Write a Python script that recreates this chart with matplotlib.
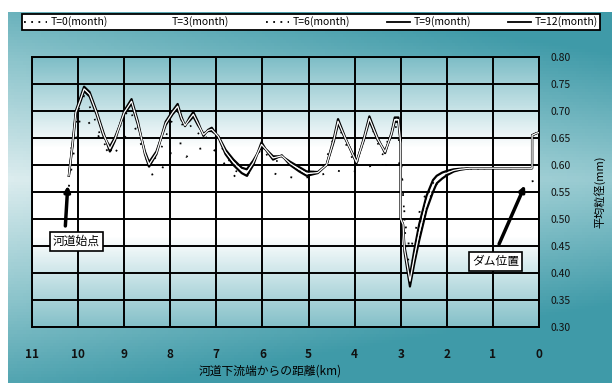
import numpy as np
import matplotlib
matplotlib.use("Agg")
import matplotlib.pyplot as plt
from matplotlib.colors import LinearSegmentedColormap
from matplotlib.lines import Line2D

plt.rcParams['font.family'] = ['Noto Sans CJK JP', 'DejaVu Sans']

# distance from downstream end (km) and mean grain size (mm)
km_main = [10.2, 10.12, 10.05, 9.95, 9.87, 9.75, 9.6, 9.45, 9.31, 9.2, 9.0, 8.84, 8.7, 8.55,
           8.46, 8.3, 8.1, 7.95, 7.84, 7.76, 7.68, 7.58, 7.5, 7.4, 7.28, 7.18, 7.1, 6.96, 6.8,
           6.63, 6.45, 6.34, 6.2, 6.02, 5.9, 5.77, 5.58, 5.4, 5.2, 5.04, 4.8, 4.61, 4.45, 4.36,
           4.2, 3.96, 3.8, 3.68, 3.5, 3.34, 3.2, 3.13, 3.05, 3.0, 3.0, 2.95, 2.92, 2.8, 2.7,
           2.6, 2.44, 2.3, 2.22, 2.1, 2.0, 1.85, 1.72, 1.5, 1.28, 1.0, 0.5, 0.15, 0.15, 0.05, 0.0]
t9 = [0.58, 0.64, 0.70, 0.725, 0.745, 0.735, 0.70, 0.66, 0.625, 0.645, 0.70, 0.722, 0.68, 0.62,
      0.597, 0.62, 0.68, 0.70, 0.713, 0.69, 0.672, 0.688, 0.698, 0.68, 0.654, 0.665, 0.669, 0.652, 0.62,
      0.600, 0.585, 0.580, 0.60, 0.642, 0.625, 0.610, 0.618, 0.60, 0.588, 0.580, 0.585, 0.600, 0.65, 0.685,
      0.65, 0.603, 0.65, 0.690, 0.65, 0.622, 0.66, 0.688, 0.688, 0.64, 0.50, 0.49, 0.44, 0.375, 0.42,
      0.46, 0.517, 0.55, 0.566, 0.575, 0.581, 0.588, 0.591, 0.594, 0.594, 0.594, 0.594, 0.594, 0.655, 0.659, 0.66]
t3 = [0.58, 0.638, 0.697, 0.721, 0.741, 0.731, 0.697, 0.657, 0.630, 0.648, 0.697, 0.718, 0.677, 0.622,
      0.601, 0.622, 0.677, 0.697, 0.709, 0.687, 0.673, 0.685, 0.694, 0.677, 0.656, 0.664, 0.666, 0.653, 0.624,
      0.605, 0.590, 0.586, 0.604, 0.638, 0.626, 0.613, 0.617, 0.603, 0.592, 0.584, 0.586, 0.600, 0.647, 0.681,
      0.649, 0.605, 0.648, 0.686, 0.648, 0.624, 0.658, 0.684, 0.684, 0.64, 0.50, 0.49, 0.445, 0.385, 0.432,
      0.475, 0.530, 0.561, 0.573, 0.581, 0.585, 0.590, 0.592, 0.594, 0.594, 0.594, 0.594, 0.594, 0.655, 0.659, 0.66]
t12 = [0.58, 0.636, 0.694, 0.717, 0.737, 0.727, 0.694, 0.654, 0.634, 0.651, 0.694, 0.714, 0.674, 0.625,
       0.605, 0.625, 0.674, 0.694, 0.705, 0.684, 0.674, 0.682, 0.690, 0.674, 0.658, 0.663, 0.663, 0.654, 0.628,
       0.610, 0.595, 0.592, 0.608, 0.634, 0.627, 0.616, 0.616, 0.606, 0.596, 0.588, 0.587, 0.600, 0.644, 0.677,
       0.648, 0.607, 0.646, 0.682, 0.646, 0.626, 0.656, 0.680, 0.680, 0.64, 0.50, 0.49, 0.45, 0.395, 0.445,
       0.490, 0.543, 0.572, 0.580, 0.586, 0.589, 0.592, 0.593, 0.594, 0.594, 0.594, 0.594, 0.594, 0.655, 0.659, 0.66]

km_t0 = [10.2, 10.1, 9.95, 9.78, 9.6, 9.4, 9.25, 9.0, 8.77, 8.6, 8.37, 8.2, 8.0, 7.9, 7.75, 7.65,
         7.5, 7.3, 7.1, 6.9, 6.56, 6.3, 6.0, 5.87, 5.6, 5.2, 4.8, 4.4, 4.14, 3.9, 3.6, 3.3,
         3.1, 3.0, 2.9, 2.8, 2.7, 2.55, 2.4, 2.2, 2.0, 1.7, 1.0, 0.2, 0.1, 0.0]
t0 = [0.56, 0.62, 0.69, 0.68, 0.66, 0.63, 0.615, 0.65, 0.671, 0.63, 0.578, 0.59, 0.62, 0.64, 0.64, 0.615,
      0.628, 0.631, 0.634, 0.61, 0.575, 0.585, 0.60, 0.588, 0.58, 0.575, 0.58, 0.59, 0.585, 0.59, 0.60, 0.60,
      0.61, 0.60, 0.49, 0.44, 0.47, 0.53, 0.555, 0.575, 0.585, 0.593, 0.594, 0.594, 0.555, 0.555]

km_t6 = [10.15, 10.0, 9.87, 9.7, 9.5, 9.31, 9.1, 8.9, 8.7, 8.46, 8.2, 7.95, 7.84, 7.7, 7.5, 7.3,
         7.1, 6.9, 6.6, 6.34, 6.02, 5.8, 5.5, 5.1, 4.7, 4.36, 4.1, 3.96, 3.68, 3.4, 3.13, 3.0,
         2.9, 2.8, 2.65, 2.5, 2.3, 2.1, 1.9, 1.6, 1.0, 0.4, 0.15]
t6 = [0.63, 0.70, 0.728, 0.70, 0.65, 0.622, 0.67, 0.705, 0.67, 0.595, 0.63, 0.685, 0.70, 0.665, 0.675, 0.645,
      0.66, 0.635, 0.59, 0.578, 0.632, 0.607, 0.608, 0.585, 0.59, 0.675, 0.62, 0.60, 0.682, 0.618, 0.68, 0.63,
      0.47, 0.40, 0.46, 0.51, 0.555, 0.578, 0.588, 0.593, 0.594, 0.594, 0.594]

xticks = list(range(11, -1, -1))
yticks = [0.30, 0.35, 0.40, 0.45, 0.50, 0.55, 0.60, 0.65, 0.70, 0.75, 0.80]

fig = plt.figure(figsize=(6.12, 3.83), dpi=100)
fig.patch.set_facecolor('white')

# teal panel behind everything
bg = fig.add_axes([8 / 612, 0, 1 - 8 / 612, 1 - 12 / 383], zorder=-10)
gx, gy = np.meshgrid(np.linspace(0, 1, 200), np.linspace(0, 1, 120))
shade = np.clip(1 - 1.6 * np.abs(gy - 0.45) - 0.45 * gx, 0, 1)
bg_cmap = LinearSegmentedColormap.from_list('bg', ['#3f9aa8', '#8fc6cd', '#dbecee'])
bg.imshow(shade, cmap=bg_cmap, aspect='auto', extent=[0, 1, 0, 1], origin='upper')
bg.axis('off')

ax = fig.add_axes([32 / 612, 56 / 383, 507 / 612, 270 / 383])
pa_cmap = LinearSegmentedColormap.from_list('pa', ['#7fbec7', '#ffffff', '#ffffff', '#86c1c9'])
ax.imshow(np.linspace(0, 1, 100).reshape(-1, 1), cmap=pa_cmap, aspect='auto',
          extent=[11, 0, 0.30, 0.80], origin='upper', zorder=0)
ax.set_xlim(11, 0)
ax.set_ylim(0.30, 0.80)

for x in xticks:
    ax.axvline(x, color='black', lw=1.4, zorder=1)
for y in yticks:
    ax.axhline(y, color='black', lw=1.4, zorder=1)

ax.plot(km_t0, t0, color='black', lw=1.3, linestyle=(0, (1, 8)), zorder=3)
ax.plot(km_t6, t6, color='black', lw=1.2, linestyle=(0, (1, 7)), zorder=3)
ax.plot(km_main, t9, color='black', lw=1.6, zorder=4)
ax.plot(km_main, t12, color='black', lw=1.6, zorder=4)
ax.plot(km_main, t3, color='white', lw=0.9, zorder=5)

ax.yaxis.tick_right()
ax.set_xticks(xticks)
ax.set_xticklabels([str(x) for x in xticks], fontsize=8.5, fontweight='bold', color='#111111')
ax.set_yticks(yticks)
ax.set_yticklabels(['%.2f' % y for y in yticks], fontsize=7.5, color='#111111')
ax.tick_params(axis='x', length=0, pad=15)
ax.tick_params(axis='y', length=0, pad=8)
for s in ax.spines.values():
    s.set_color('black')
    s.set_linewidth(1.4)

ax.set_xlabel('河道下流端からの距離(km)', fontsize=8.5)
ax.xaxis.set_label_coords(0.47, -0.138)
fig.text(0.98, 0.50, '平均粒径(mm)', rotation=90, fontsize=8, ha='center', va='center')

box = dict(boxstyle='square,pad=0.25', facecolor='white', edgecolor='black', lw=1.2)
ax.annotate('', xy=(10.22, 0.567), xytext=(10.28, 0.482),
            arrowprops=dict(arrowstyle='-|>', color='black', lw=2.5, mutation_scale=8), zorder=6)
ax.text(10.035, 0.459, '河道始点', fontsize=8.5, ha='center', va='center', bbox=box, zorder=7)
ax.annotate('', xy=(0.28, 0.567), xytext=(0.89, 0.449),
            arrowprops=dict(arrowstyle='-|>', color='black', lw=2.5, mutation_scale=8), zorder=6)
ax.text(0.935, 0.422, 'ダム位置', fontsize=8.5, ha='center', va='center', bbox=box, zorder=7)

handles = [Line2D([], [], color='black', lw=1.3, linestyle=(0, (1, 3))),
           Line2D([], [], color='white', lw=1.3),
           Line2D([], [], color='black', lw=1.3, linestyle=(0, (1, 3))),
           Line2D([], [], color='black', lw=1.3),
           Line2D([], [], color='black', lw=1.3)]
labels = ['T=0(month)', 'T=3(month)', 'T=6(month)', 'T=9(month)', 'T=12(month)']
leg = fig.legend(handles, labels, loc='center', ncol=5, fontsize=7.5,
                 bbox_to_anchor=(311 / 612, 1 - 22 / 383), frameon=True, fancybox=False,
                 handlelength=2.2, handletextpad=0.3, columnspacing=3.6, borderpad=0.25)
leg.get_frame().set_edgecolor('black')
leg.get_frame().set_linewidth(1.3)
leg.get_frame().set_facecolor('white')
leg.get_frame().set_alpha(1)

fig.savefig('out.png', dpi=100)
